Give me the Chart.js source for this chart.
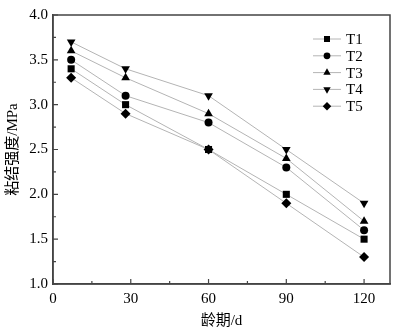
<!DOCTYPE html>
<html><head><meta charset="utf-8">
<script src="https://cdn.jsdelivr.net/npm/chart.js@4/dist/chart.umd.min.js"></script>
<style>html,body{margin:0;padding:0;background:#fff}#wrap{width:397px;height:335px}</style>
</head><body><div id="wrap"><canvas id="c" width="397" height="335"></canvas></div>
<script>
const ages = [7, 28, 60, 90, 120];
const seriesNames = ['T1','T2','T3','T4','T5'];
const T1 = [3.4, 3.0, 2.5, 2.0, 1.5];
const T2 = [3.5, 3.1, 2.8, 2.3, 1.6];
const T3 = [3.6, 3.3, 2.9, 2.4, 1.7];
const T4 = [3.7, 3.4, 3.1, 2.5, 1.9];
const T5 = [3.3, 2.9, 2.5, 1.9, 1.3];
const xTicks = [0, 30, 60, 90, 120];
const yTicks = [1.0, 1.5, 2.0, 2.5, 3.0, 3.5, 4.0];
const xTitle = '龄期/d';
const yTitle = '粘结强度/MPa';

const styles = [
  {pointStyle:'rect', r:5, rot:0},
  {pointStyle:'circle', r:4, rot:0},
  {pointStyle:'triangle', r:5, rot:0},
  {pointStyle:'triangle', r:5, rot:180},
  {pointStyle:'rectRot', r:5, rot:0}
];
const allSeries = [T1,T2,T3,T4,T5];
const datasets = allSeries.map((s,i)=>({
  label: seriesNames[i],
  data: s.map((v,j)=>({x:ages[j], y:v})),
  borderColor:'#b4b4b4', borderWidth:1,
  pointStyle: styles[i].pointStyle, pointRadius: styles[i].r, pointRotation: styles[i].rot,
  pointBackgroundColor:'#000', pointBorderColor:'#000', pointBorderWidth:0,
  tension:0, fill:false
}));

const serif = '"Liberation Serif", "Times New Roman", serif';
const titleFont = '"Liberation Serif", "Noto Sans CJK SC", serif';
const framePlugin = {
  id:'frame',
  afterDatasetsDraw(chart){
    const ctx = chart.ctx, a = chart.chartArea;
    const xs = chart.scales.x, ys = chart.scales.y;
    ctx.save();
    ctx.strokeStyle = '#444'; ctx.lineWidth = 1.5;
    ctx.strokeRect(a.left, a.top, a.right-a.left, a.bottom-a.top);
    ctx.lineWidth = 1.2;
    ctx.beginPath();
    for (let v=0; v<=120; v+=15){
      const px = xs.getPixelForValue(v);
      const len = (v%30===0)?5:3;
      ctx.moveTo(px, a.bottom); ctx.lineTo(px, a.bottom-len);
    }
    for (let v=1.0; v<=4.0001; v+=0.25){
      const py = ys.getPixelForValue(v);
      const len = (Math.abs(v*2-Math.round(v*2))<1e-6)?5:3;
      ctx.moveTo(a.left, py); ctx.lineTo(a.left+len, py);
    }
    ctx.stroke();
    // legend
    const lx = 313, ly0 = 39, dy = 16.8;
    chart.data.datasets.forEach((ds,i)=>{
      const y = ly0 + i*dy;
      ctx.strokeStyle = '#b4b4b4'; ctx.lineWidth = 1;
      ctx.beginPath(); ctx.moveTo(lx, y); ctx.lineTo(lx+28, y); ctx.stroke();
      ctx.fillStyle = '#000';
      Chart.helpers.drawPoint(ctx, {pointStyle: ds.pointStyle, radius: ds.pointRadius*0.85, rotation: ds.pointRotation, borderWidth:0}, lx+14, y);
      ctx.fillStyle = '#000';
      ctx.font = '15px ' + serif;
      ctx.textBaseline = 'middle'; ctx.textAlign = 'left';
      ctx.fillText(ds.label, lx+33, y+1);
    });
    ctx.restore();
  }
};

new Chart(document.getElementById('c'), {
  type:'line',
  data:{datasets},
  options:{
    responsive:false, animation:false, devicePixelRatio:1,
    layout:{padding:{top:15, right:7, left:0, bottom:0}},
    plugins:{legend:{display:false}, tooltip:{enabled:false}},
    scales:{
      x:{type:'linear', min:0, max:130,
        afterBuildTicks(s){ s.ticks = xTicks.map(v=>({value:v})); },
        afterFit(s){ s.height = 51; },
        grid:{display:false, drawTicks:false}, border:{display:true, color:'#444', width:1.5},
        ticks:{color:'#000', font:{family:serif, size:15}, padding:6, maxRotation:0},
        title:{display:true, text:xTitle, color:'#000', font:{family:titleFont, size:15}, padding:{top:0,bottom:5}}
      },
      y:{type:'linear', min:1.0, max:4.0,
        afterBuildTicks(s){ s.ticks = yTicks.map(v=>({value:v})); },
        afterFit(s){ s.width = 53; },
        grid:{display:false, drawTicks:false}, border:{display:true, color:'#444', width:1.5},
        ticks:{color:'#000', font:{family:serif, size:15}, padding:5, callback:v=>Number(v).toFixed(1)},
        title:{display:true, text:yTitle, color:'#000', font:{family:titleFont, size:15}, padding:{top:4,bottom:2}}
      }
    }
  },
  plugins:[framePlugin]
});
</script></body></html>
